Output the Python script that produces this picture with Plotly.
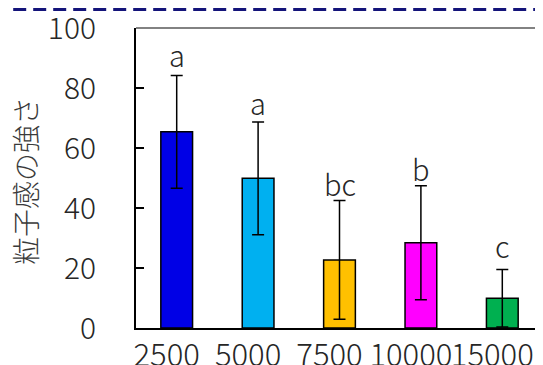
import plotly.graph_objects as go

categories = ["2500", "5000", "7500", "10000", "15000"]
values = [65.4, 49.9, 22.7, 28.4, 9.9]
errors = [18.8, 18.8, 19.8, 19.0, 9.6]
colors = ["#0000E6", "#00B0F0", "#FFC000", "#FF00FF", "#00B050"]
letters = ["a", "a", "bc", "b", "c"]
label_y = [91.2, 75.5, 48.5, 53.3, 27.7]
y_ticks = [0, 20, 40, 60, 80, 100]
y_title = "粒子感の強さ"

FONT = "Noto Sans CJK JP"
TXT = "#262626"
W = 300
PLOT_W, PLOT_H = 407, 300

fig = go.Figure()
fig.add_trace(go.Bar(
    x=list(range(len(categories))), y=values, width=0.39,
    marker=dict(color=colors, line=dict(color="black", width=1.5)),
    error_y=dict(type="data", array=errors, color="black", thickness=1.5, width=6),
    showlegend=False,
))

for i, (t, ly) in enumerate(zip(letters, label_y)):
    fig.add_annotation(x=i, y=ly, text=t, showarrow=False, yanchor="middle",
                       font=dict(family=FONT, size=29, color=TXT, weight=W))

# y-axis title placed as rotated annotation
fig.add_annotation(xref="paper", yref="paper", x=-111 / PLOT_W, y=0.49,
                   text=y_title, textangle=-90, showarrow=False,
                   xanchor="center", yanchor="middle",
                   font=dict(family=FONT, size=28, color="#3a3a3a", weight=W))

# top frame line and top dashed decoration
fig.add_shape(type="line", xref="paper", yref="paper", x0=0, x1=1.0,
              y0=1.0, y1=1.0, line=dict(color="#595959", width=1.5))
fig.add_shape(type="line", xref="paper", yref="paper", x0=-0.4, x1=1.05,
              y0=1 + 18.5 / PLOT_H, y1=1 + 18.5 / PLOT_H,
              line=dict(color="#14147A", width=3, dash="13px,7px"))

fig.update_layout(
    width=535, height=357,
    margin=dict(l=128, r=0, t=20, b=37),
    plot_bgcolor="white", paper_bgcolor="white",
    font=dict(family=FONT, size=28, color=TXT, weight=W),
)
fig.update_xaxes(
    range=[-0.5, 4.5], tickvals=list(range(len(categories))), ticktext=categories,
    tickangle=0, automargin=False, showline=True, linecolor="black",
    linewidth=2, ticks="", showgrid=False, zeroline=False, ticklabelshift=-10,
    ticklabeloverflow="allow",
    tickfont=dict(family=FONT, size=31, color=TXT, weight=W), ticklabelstandoff=-1,
)
fig.update_yaxes(
    range=[0, 100], tickvals=y_ticks, showline=True, linecolor="black",
    automargin=False, ticklabeloverflow="allow",
    linewidth=2, ticks="inside", ticklen=8, tickwidth=1.5, tickcolor="black",
    showgrid=False, zeroline=False, ticklabelstandoff=32,
    tickfont=dict(family=FONT, size=30, color=TXT, weight=W),
)

fig.write_html("out.html")
